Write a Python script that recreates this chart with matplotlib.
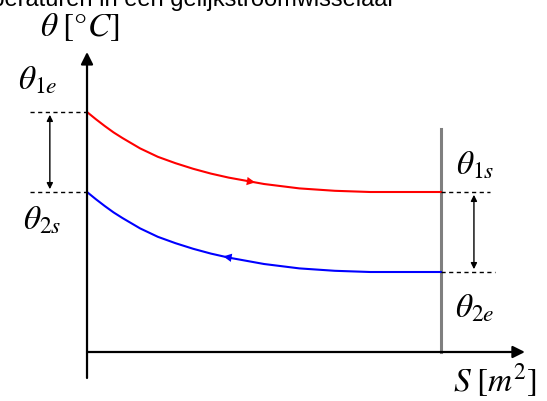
import matplotlib.pyplot as plt

plt.rcParams["mathtext.fontset"] = "stix"

# heat exchange surface S [m2] and temperatures [C]
surface = [0, 0.25, 0.5, 0.75, 1.0, 1.5, 2.0, 2.5, 3.0, 3.5, 4.0, 5.0, 6.0, 7.0, 8.0, 10]
hot_temp = [60, 58.2, 56.5, 54.9, 53.5, 50.9, 48.8, 47.2, 45.8, 44.6, 43.6, 42.0,
            40.9, 40.3, 40, 40]
cold_temp = [40, 38.2, 36.5, 34.9, 33.5, 30.9, 28.8, 27.2, 25.8, 24.6, 23.6, 22.0,
             20.9, 20.3, 20, 20]

theta_1e, theta_1s = 60, 40
theta_2s, theta_2e = 40, 20
s_end = 10

fig = plt.figure(figsize=(5.47, 4.01), dpi=100)
ax = fig.add_axes([0, 0, 1, 1])
ax.set_xlim(-2.458, 12.994)
ax.set_ylim(-12.25, 88)
ax.axis("off")

# axes with arrow heads
ax.annotate("", xy=(0, 75), xytext=(0, -6.5),
            arrowprops=dict(arrowstyle="-|>", color="black", lw=1.6,
                            mutation_scale=18, shrinkA=0, shrinkB=0))
ax.annotate("", xy=(12.37, 0), xytext=(0, 0),
            arrowprops=dict(arrowstyle="-|>", color="black", lw=1.6,
                            mutation_scale=18, shrinkA=0, shrinkB=0))

# end of exchanger
ax.plot([s_end, s_end], [0, 55.75], color="#7f7f7f", lw=2.2)

# curves
ax.plot(surface, hot_temp, color="red", lw=1.5)
ax.plot(surface, cold_temp, color="blue", lw=1.5)
ax.annotate("", xy=(4.75, 42.4), xytext=(4.4, 42.9),
            arrowprops=dict(arrowstyle="-|>", color="red", lw=0,
                            mutation_scale=15, shrinkA=0, shrinkB=0))
ax.annotate("", xy=(3.85, 23.9), xytext=(4.25, 23.3),
            arrowprops=dict(arrowstyle="-|>", color="blue", lw=0,
                            mutation_scale=15, shrinkA=0, shrinkB=0))

# dashed guides and double arrows
dash = (0, (3, 2.5))
ax.plot([-1.61, 0], [theta_1e, theta_1e], color="black", ls=dash, lw=1)
ax.plot([-1.61, 0], [theta_2s, theta_2s], color="black", ls=dash, lw=1)
ax.plot([s_end, 11.38], [theta_1s, theta_1s], color="black", ls=dash, lw=1)
ax.plot([s_end, 11.53], [theta_2e, theta_2e], color="black", ls=dash, lw=1)
ax.annotate("", xy=(-1.05, theta_1e - 0.7), xytext=(-1.05, theta_2s + 0.7),
            arrowprops=dict(arrowstyle="<|-|>", color="black", lw=1,
                            mutation_scale=9, shrinkA=0, shrinkB=0))
ax.annotate("", xy=(10.93, theta_1s - 0.7), xytext=(10.93, theta_2e + 0.7),
            arrowprops=dict(arrowstyle="<|-|>", color="black", lw=1,
                            mutation_scale=9, shrinkA=0, shrinkB=0))

# labels
fs = 24
ax.text(-1.38, 68, r"$\theta_{1e}$", fontsize=fs, ha="center", va="center")
ax.text(-1.27, 33, r"$\theta_{2s}$", fontsize=fs, ha="center", va="center")
ax.text(10.96, 46.75, r"$\theta_{1s}$", fontsize=fs, ha="center", va="center")
ax.text(10.96, 11, r"$\theta_{2e}$", fontsize=fs, ha="center", va="center")
ax.text(-0.2, 81.25, r"$\theta\;[°C]$", fontsize=fs, ha="center", va="center")
ax.text(11.53, -7, r"$S\;[m^2]$", fontsize=fs, ha="center", va="center")

# clipped caption line at the very top
ax.text(8.7, 86.6, "temperaturen in een gelijkstroomwisselaar", fontsize=17,
        family="Liberation Sans", ha="right", va="baseline")

fig.savefig("out.png", dpi=100)
